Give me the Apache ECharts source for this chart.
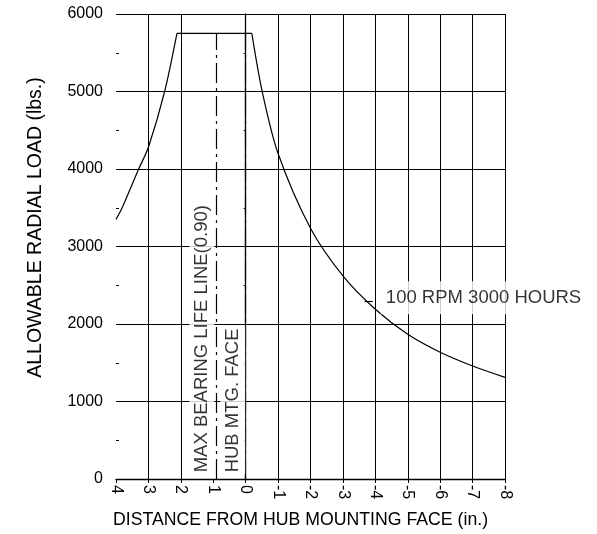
<!DOCTYPE html>
<html>
<head>
<meta charset="utf-8">
<script src="https://cdn.jsdelivr.net/npm/echarts/dist/echarts.min.js"></script>
<style>
html,body{margin:0;padding:0;background:#fff;}
#chart{width:597px;height:534px;}
</style>
</head>
<body>
<div id="chart"></div>
<script>
// ---- data ----
const leftX  = [4, 3.81, 3.3, 3.0, 2.5, 2.12];
const leftY  = [3350, 3500, 4000, 4280, 5000, 5750];
const flatX  = [2.12, -0.19];
const flatY  = [5750, 5750];
const rightX = [-0.19, -0.51, -1, -2, -3, -4, -5, -6, -7, -8];
const rightY = [5750, 5000, 4200, 3235, 2620, 2190, 1867, 1635, 1458, 1312];
const gridX  = [3, 2, -1, -2, -3, -4, -5, -6, -7, -8];   // solid vertical grid lines
const maxBearingX = 0.9;
const hubFaceX = 0;
const dashTopY = 5750;
const curveLabel = '100 RPM 3000 HOURS';
const curveLabelPos = [-4.17, 2340];
const leaderLine = [[-3.67, 2290], [-3.92, 2290]];
const maxBearingLabel = 'MAX BEARING LIFE LINE(0.90)';
const maxBearingLabelPos = [1.35, 60];
const hubLabel = 'HUB MTG. FACE';
const hubLabelPos = [0.40, 60];
const xName = 'DISTANCE FROM HUB MOUNTING FACE (in.)';
const yName = 'ALLOWABLE RADIAL LOAD (lbs.)';

const FONT = "'Liberation Sans', Arial, Helvetica, sans-serif";
const zip = (xs, ys) => xs.map((x, i) => [x, ys[i]]);
const ink = '#000';

const chart = echarts.init(document.getElementById('chart'), null, {renderer: 'canvas'});
chart.setOption({
  animation: false,
  backgroundColor: '#fff',
  grid: {left: 116, right: 92, top: 14, bottom: 55, containLabel: false, outerBoundsMode: 'none'},
  xAxis: {
    type: 'value', inverse: true, min: -8, max: 4, interval: 1,
    name: xName, nameLocation: 'middle', nameGap: 32,
    nameTextStyle: {fontFamily: FONT, fontSize: 17.7, color: ink, padding: [0, 20, 0, 0]},
    axisLine: {show: true, lineStyle: {color: ink, width: 1.3}},
    axisTick: {show: true, length: 4, lineStyle: {color: ink}},
    axisLabel: {rotate: -90, margin: 6, fontFamily: FONT, fontSize: 16, color: ink,
                formatter: v => String(v)},
    splitLine: {show: false}
  },
  yAxis: [{
    type: 'value', min: 0, max: 6000, interval: 1000,
    name: yName, nameLocation: 'middle', nameGap: 70, nameRotate: 90,
    nameTextStyle: {fontFamily: FONT, fontSize: 19.5, color: ink, padding: [0, 0, 0, 38]},
    axisLine: {show: true, lineStyle: {color: ink, width: 1.3}},
    axisTick: {show: true, length: 9, lineStyle: {color: ink}},
    minorTick: {show: true, splitNumber: 2, length: 2, lineStyle: {color: ink}},
    axisLabel: {margin: 13, fontFamily: FONT, fontSize: 16, color: ink,
                formatter: v => String(v)},
    splitLine: {show: true, lineStyle: {color: ink, width: 1}}
  }, {
    type: 'value', min: 0, max: 6000, interval: 500, position: 'left',
    axisLine: {show: false},
    axisTick: {show: true, inside: true, length: 3, lineStyle: {color: ink}},
    axisLabel: {show: false},
    splitLine: {show: false}
  }],
  series: [
    {
      type: 'line', data: zip(flatX, flatY), showSymbol: false, symbol: 'none',
      lineStyle: {color: ink, width: 1.2}, z: 3,
      markLine: {
        silent: true, symbol: 'none', label: {show: false},
        lineStyle: {color: ink, width: 1, type: 'solid'},
        data: gridX.map(v => ({xAxis: v}))
      }
    },
    {
      type: 'line', data: zip(leftX, leftY), smooth: 0.3,
      showSymbol: false, symbol: 'none', lineStyle: {color: ink, width: 1.2}, z: 3
    },
    {
      type: 'line', data: zip(rightX, rightY), smooth: 0.3,
      showSymbol: false, symbol: 'none', lineStyle: {color: ink, width: 1.2}, z: 3,
      markLine: {
        silent: true, symbol: 'none', label: {show: false},
        data: [
          [{coord: [maxBearingX, 0], lineStyle: {color: ink, width: 1.2, type: [20, 5, 3, 5]}},
           {coord: [maxBearingX, dashTopY]}],
          [{coord: [hubFaceX, 0], lineStyle: {color: ink, width: 1.2, type: [20, 5, 3, 5]}},
           {coord: [hubFaceX, dashTopY]}],
          [{coord: leaderLine[0], lineStyle: {color: ink, width: 1.2, type: 'solid'}},
           {coord: leaderLine[1]}]
        ]
      }
    },
    {
      type: 'scatter', symbolSize: 0, z: 10, silent: true,
      data: [
        {value: maxBearingLabelPos, label: {formatter: maxBearingLabel, rotate: 90, align: 'left', verticalAlign: 'middle', padding: [3, 3, 3, 2]}},
        {value: hubLabelPos, label: {formatter: hubLabel, rotate: 90, align: 'left', verticalAlign: 'middle', padding: [3, 3, 3, 2]}},
        {value: curveLabelPos, label: {formatter: curveLabel, rotate: 0, align: 'left', verticalAlign: 'middle', padding: [7, 6, 7, 5]}}
      ],
      label: {
        show: true, position: 'inside', color: ink, fontFamily: FONT, fontSize: 18.5,
        backgroundColor: '#fff'
      }
    }
  ]
});
</script>
</body>
</html>
